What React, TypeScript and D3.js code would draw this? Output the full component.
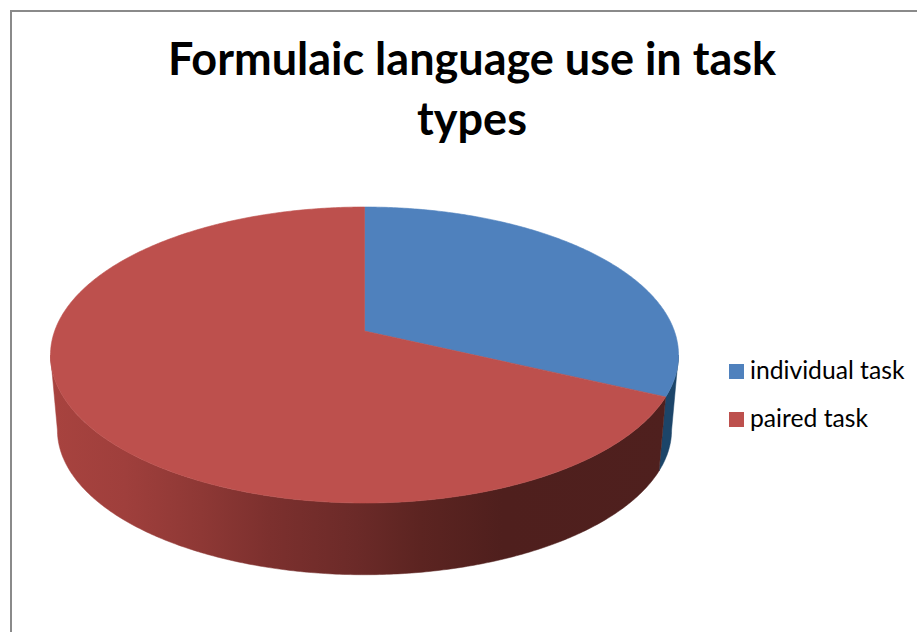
import React from "react";
import * as d3 from "d3";

const categories = ["individual task", "paired task"];
const shares = [32, 68];
const topColors = ["#4f81bd", "#bd504d"];
const titleLines = ["Formulaic language use in task", "types"];
const blueWallColor = "#1c4569";
const redWallOffsets = [0, 0.12, 0.24, 0.35, 0.49, 0.59, 0.72, 1];
const redWallColors = ["#a8433f", "#9f3f3c", "#8e3835", "#7c302e", "#6b2a28", "#5c2421", "#4f1f1d", "#4f201e"];

const WIDTH = 917;
const HEIGHT = 632;
const FONT = "Lato, 'Open Sans', sans-serif";

// Perspective projection of the disc: the top face is a circle tilted away from the viewer.
const CX = 364.5;
const APEX_Y = 331;
const NEAR_REACH = 172;
const FAR_REACH = 124;
const RX = 314;
const tilt = -(NEAR_REACH - FAR_REACH) / (NEAR_REACH + FAR_REACH);
const yScale = NEAR_REACH * (1 + tilt);
const xScale = RX * Math.sqrt(1 - tilt * tilt);

const project = (angle: number): [number, number] => {
  const u = Math.sin(angle);
  const v = -Math.cos(angle);
  const w = 1 + tilt * v;
  return [CX + (xScale * u) / w, APEX_Y + (yScale * v) / w];
};

// The lower rim is the same outline, slightly smaller and pushed down.
const TOP_CENTER_Y = 355;
const BOTTOM_CENTER_Y = 430;
const BOTTOM_SCALE = 0.978;
const projectLower = (angle: number): [number, number] => {
  const [x, y] = project(angle);
  return [CX + BOTTOM_SCALE * (x - CX), BOTTOM_CENTER_Y + BOTTOM_SCALE * (y - TOP_CENTER_Y)];
};

const sweep = (from: number, to: number) => {
  const steps = Math.max(2, Math.ceil(Math.abs(to - from) / 0.01));
  return d3.range(steps + 1).map((i) => from + ((to - from) * i) / steps);
};

const line = d3.line<[number, number]>();

export default function App() {
  const arcs = d3.pie<number>().sort(null)(shares);
  // Silhouette angles, where the projected outline reaches its widest x.
  const wallStart = Math.acos(tilt);
  const wallEnd = 2 * Math.PI - wallStart;

  const facePath = (a: d3.PieArcDatum<number>) =>
    line([[CX, APEX_Y], ...sweep(a.startAngle, a.endAngle).map(project)]) + "Z";
  const wallPath = (from: number, to: number) => {
    const angles = sweep(from, to);
    return line([...angles.map(project), ...angles.slice().reverse().map(projectLower)]) + "Z";
  };
  const seam = arcs[0].endAngle;

  return (
    <svg
      width={WIDTH}
      height={HEIGHT}
      viewBox={`0 0 ${WIDTH} ${HEIGHT}`}
      style={{ position: "fixed", left: 0, top: 0, background: "#fff", display: "block" }}
    >
      <defs>
        <linearGradient id="redWall" gradientUnits="userSpaceOnUse" x1={50} x2={678} y1={0} y2={0}>
          {redWallOffsets.map((o, i) => (
            <stop key={o} offset={o} stopColor={redWallColors[i]} />
          ))}
        </linearGradient>
      </defs>
      <path d={`M11 ${HEIGHT}V11H${WIDTH}`} fill="none" stroke="#8a8a8a" strokeWidth={2} />
      {titleLines.map((t, i) => (
        <text
          key={t}
          x={472}
          y={75 + i * 60}
          textAnchor="middle"
          fontFamily={FONT}
          fontWeight={700}
          fontSize={45}
          fill="#000"
        >
          {t}
        </text>
      ))}
      <path d={wallPath(wallStart, seam)} fill={blueWallColor} stroke={blueWallColor} strokeWidth={0.5} />
      <path d={wallPath(seam, wallEnd)} fill="url(#redWall)" stroke="url(#redWall)" strokeWidth={0.5} />
      {arcs.map((a, i) => (
        <path
          key={categories[i]}
          d={facePath(a)}
          fill={topColors[i]}
          stroke={topColors[i]}
          strokeWidth={0.6}
          strokeLinejoin="round"
        />
      ))}
      {categories.map((c, i) => (
        <g key={c} transform={`translate(729,${364 + i * 48})`}>
          <rect width={15} height={15} fill={topColors[i]} />
          <text x={21} y={15} fontFamily={FONT} fontSize={24.7} fill="#000">
            {c}
          </text>
        </g>
      ))}
    </svg>
  );
}
